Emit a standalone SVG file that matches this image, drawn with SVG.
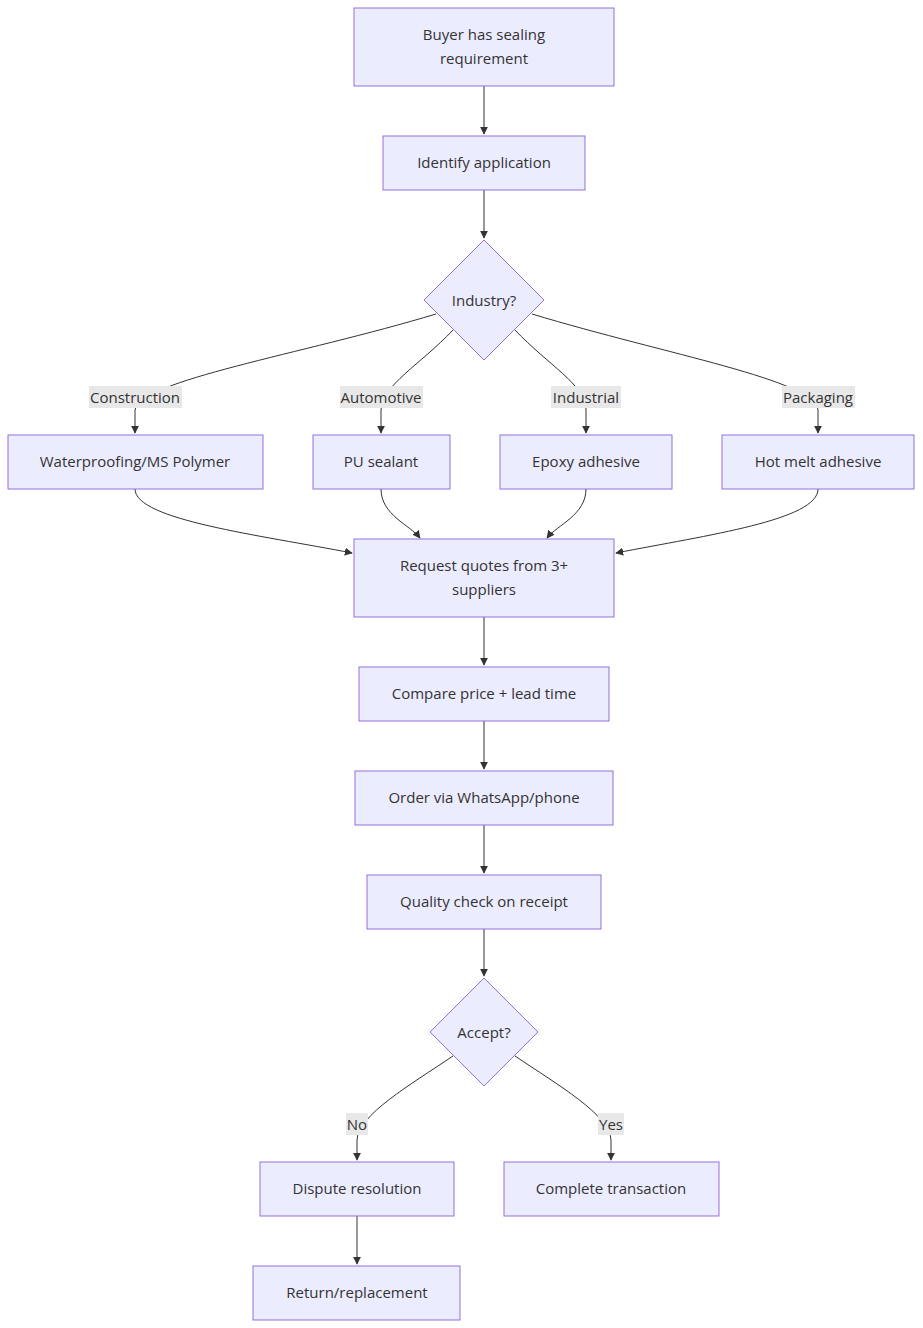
<svg xmlns="http://www.w3.org/2000/svg" width="923" height="1328" viewBox="0 0 923 1328">
<style>
.n{fill:#ECECFF;stroke:#9370DB;stroke-width:1}
.t{font-family:"Open Sans","DejaVu Sans",sans-serif;font-size:15px;fill:#333;text-anchor:middle;dominant-baseline:central}
.e{fill:none;stroke:#333;stroke-width:1;marker-end:url(#a)}
.lb{fill:#e8e8e8}
</style>
<defs><marker id="a" viewBox="0 0 10 10" refX="9" refY="5" markerWidth="8" markerHeight="8" orient="auto"><path d="M0,0L10,5L0,10z" fill="#333"/></marker></defs>
<rect width="923" height="1328" fill="#fff"/>
<g id="edges">
<path class="e" d="M484,86V134"/>
<path class="e" d="M484,190V238"/>
<path class="e" d="M436,314C300,355 140,380 135,410V433"/>
<path class="e" d="M453,330C420,365 382,385 381,410V433"/>
<path class="e" d="M515,330C548,365 586,385 586,410V433"/>
<path class="e" d="M532,314C668,355 815,380 818,410V433"/>
<path class="e" d="M135,489C135,520 260,535 352,553"/>
<path class="e" d="M381,489C381,515 410,525 420,538"/>
<path class="e" d="M586,489C586,515 557,525 547,538"/>
<path class="e" d="M818,489C818,520 708,535 616,553"/>
<path class="e" d="M484,617V665"/>
<path class="e" d="M484,721V769"/>
<path class="e" d="M484,825V873"/>
<path class="e" d="M484,929V976"/>
<path class="e" d="M453,1056C410,1085 358,1115 357,1140V1160"/>
<path class="e" d="M515,1056C558,1085 610,1115 611,1140V1160"/>
<path class="e" d="M357,1216V1264"/>
</g>
<g id="edge-labels">
<rect class="lb" x="89" y="386" width="93" height="22"/><text class="t" x="135" y="397">Construction</text>
<rect class="lb" x="340" y="386" width="83" height="22"/><text class="t" x="381" y="397">Automotive</text>
<rect class="lb" x="551" y="386" width="70" height="22"/><text class="t" x="586" y="397">Industrial</text>
<rect class="lb" x="782" y="386" width="73" height="22"/><text class="t" x="818" y="397">Packaging</text>
<rect class="lb" x="346" y="1113" width="22" height="22"/><text class="t" x="357" y="1124">No</text>
<rect class="lb" x="598" y="1113" width="26" height="22"/><text class="t" x="611" y="1124">Yes</text>
</g>
<g id="n1"><rect class="n" x="354" y="8" width="260" height="78"/><text class="t" x="484" y="34">Buyer has sealing</text><text class="t" x="484" y="58">requirement</text></g>
<g id="n2"><rect class="n" x="383" y="136" width="202" height="54"/><text class="t" x="484" y="162">Identify application</text></g>
<g id="n3"><polygon class="n" points="484,240 544,300 484,360 424,300"/><text class="t" x="484" y="300">Industry?</text></g>
<g id="n4"><rect class="n" x="8" y="435" width="255" height="54"/><text class="t" x="135" y="461">Waterproofing/MS Polymer</text></g>
<g id="n5"><rect class="n" x="313" y="435" width="137" height="54"/><text class="t" x="381" y="461">PU sealant</text></g>
<g id="n6"><rect class="n" x="500" y="435" width="172" height="54"/><text class="t" x="586" y="461">Epoxy adhesive</text></g>
<g id="n7"><rect class="n" x="722" y="435" width="192" height="54"/><text class="t" x="818" y="461">Hot melt adhesive</text></g>
<g id="n8"><rect class="n" x="354" y="539" width="260" height="78"/><text class="t" x="484" y="565">Request quotes from 3+</text><text class="t" x="484" y="589">suppliers</text></g>
<g id="n9"><rect class="n" x="359" y="667" width="250" height="54"/><text class="t" x="484" y="693">Compare price + lead time</text></g>
<g id="n10"><rect class="n" x="355" y="771" width="258" height="54"/><text class="t" x="484" y="797">Order via WhatsApp/phone</text></g>
<g id="n11"><rect class="n" x="367" y="875" width="234" height="54"/><text class="t" x="484" y="901">Quality check on receipt</text></g>
<g id="n12"><polygon class="n" points="484,978 538,1032 484,1086 430,1032"/><text class="t" x="484" y="1032">Accept?</text></g>
<g id="n13"><rect class="n" x="260" y="1162" width="194" height="54"/><text class="t" x="357" y="1188">Dispute resolution</text></g>
<g id="n14"><rect class="n" x="504" y="1162" width="215" height="54"/><text class="t" x="611" y="1188">Complete transaction</text></g>
<g id="n15"><rect class="n" x="253" y="1266" width="207" height="54"/><text class="t" x="357" y="1292">Return/replacement</text></g>
</svg>
